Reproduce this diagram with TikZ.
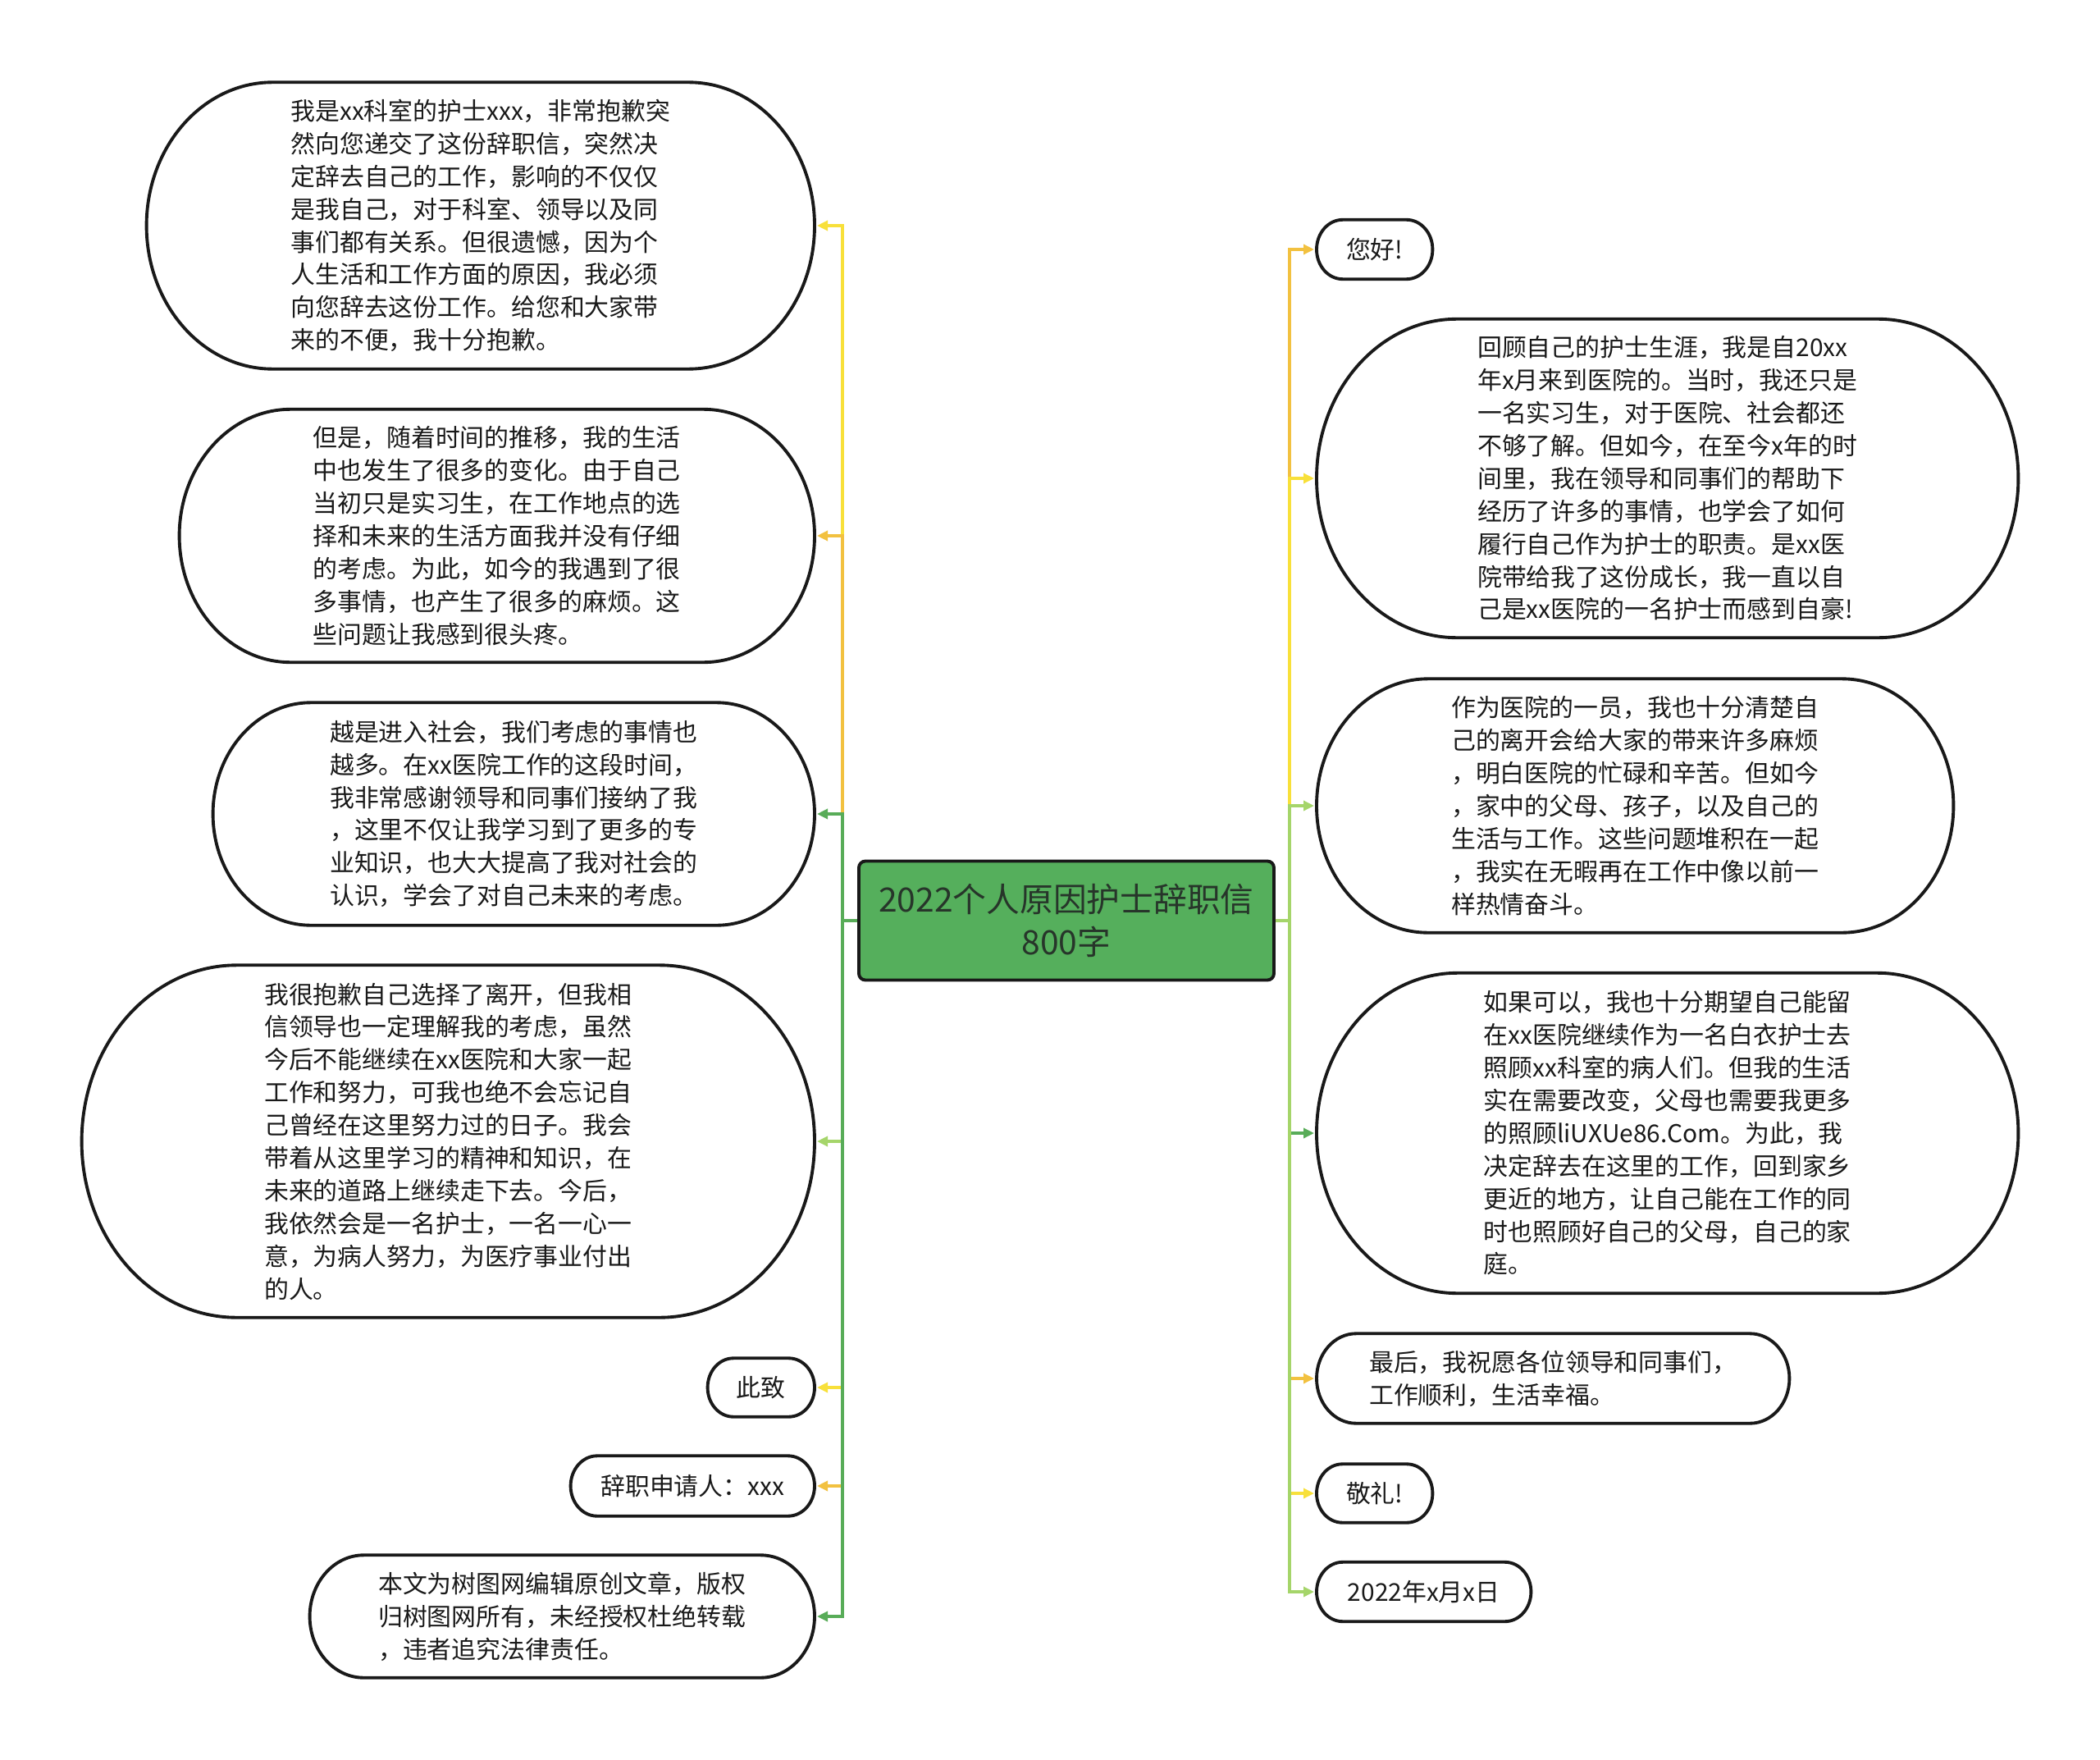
\documentclass[tikz,border=0pt]{standalone}
\usepackage{fontspec}
\setmainfont{Noto Sans CJK SC}
\usetikzlibrary{arrows.meta, calc}

\definecolor{rootgreen}{HTML}{55AF5C}
\definecolor{roottext}{HTML}{27352A}
\definecolor{linkyellow}{HTML}{F8E03A}
\definecolor{linkorange}{HTML}{F2C140}
\definecolor{linkgreen}{HTML}{58AC58}
\definecolor{linklime}{HTML}{A5D56A}

\tikzset{
  root/.style={draw=black!90, line width=1.1pt, fill=rootgreen, rounded corners=0.08cm,
    minimum width=5.06cm, minimum height=1.45cm, align=center, text=roottext,
    font=\fontsize{11.6pt}{14.8pt}\selectfont},
  leaf/.style={align=left, inner sep=0pt, text=black!90,
    font=\fontsize{8.5pt}{11.35pt}\selectfont},
  outline/.style={draw=black!90, line width=1.1pt},
  link/.style={line width=1pt, -{Triangle[length=0.13cm, width=0.12cm]}, shorten >=0.03cm},
}

\begin{document}
\begin{tikzpicture}[x=1cm, y=-1cm]
  \useasboundingbox (0,0) rectangle (25.6,21.45);

  % centre topic
  \node[root] (root) at (13.00,11.22) {2022个人原因护士辞职信\\800字};
  \coordinate (lbus) at (10.27,11.22);
  \coordinate (rbus) at (15.72,11.22);

  % left column
  \node[leaf, anchor=east, minimum width=8.13cm, minimum height=3.48cm] (l1) at (9.93,2.75)
    {我是xx科室的护士xxx，非常抱歉突\\然向您递交了这份辞职信，突然决\\定辞去自己的工作，影响的不仅仅\\是我自己，对于科室、领导以及同\\事们都有关系。但很遗憾，因为个\\人生活和工作方面的原因，我必须\\向您辞去这份工作。给您和大家带\\来的不便，我十分抱歉。};
  \node[leaf, anchor=east, minimum width=7.73cm, minimum height=3.07cm] (l2) at (9.93,6.53)
    {但是，随着时间的推移，我的生活\\中也发生了很多的变化。由于自己\\当初只是实习生，在工作地点的选\\择和未来的生活方面我并没有仔细\\的考虑。为此，如今的我遇到了很\\多事情，也产生了很多的麻烦。这\\些问题让我感到很头疼。};
  \node[leaf, anchor=east, minimum width=7.32cm, minimum height=2.70cm] (l3) at (9.93,9.92)
    {越是进入社会，我们考虑的事情也\\越多。在xx医院工作的这段时间，\\我非常感谢领导和同事们接纳了我\\，这里不仅让我学习到了更多的专\\业知识，也大大提高了我对社会的\\认识，学会了对自己未来的考虑。};
  \node[leaf, anchor=east, minimum width=8.92cm, minimum height=4.28cm] (l4) at (9.93,13.91)
    {我很抱歉自己选择了离开，但我相\\信领导也一定理解我的考虑，虽然\\今后不能继续在xx医院和大家一起\\工作和努力，可我也绝不会忘记自\\己曾经在这里努力过的日子。我会\\带着从这里学习的精神和知识，在\\未来的道路上继续走下去。今后，\\我依然会是一名护士，一名一心一\\意，为病人努力，为医疗事业付出\\的人。};
  \node[leaf, anchor=east, minimum width=1.29cm, minimum height=0.70cm] (l5) at (9.93,16.91) {此致};
  \node[leaf, anchor=east, minimum width=2.96cm, minimum height=0.72cm] (l6) at (9.93,18.11) {辞职申请人：xxx};
  \node[leaf, anchor=east, minimum width=6.14cm, minimum height=1.48cm] (l7) at (9.93,19.70)
    {本文为树图网编辑原创文章，版权\\归树图网所有，未经授权杜绝转载\\，违者追究法律责任。};

  % right column
  \node[leaf, anchor=west, minimum width=1.40cm, minimum height=0.71cm] (r1) at (16.05,3.04) {您好!};
  \node[leaf, anchor=west, minimum width=8.54cm, minimum height=3.87cm] (r2) at (16.05,5.83)
    {回顾自己的护士生涯，我是自20xx\\年x月来到医院的。当时，我还只是\\一名实习生，对于医院、社会都还\\不够了解。但如今，在至今x年的时\\间里，我在领导和同事们的帮助下\\经历了许多的事情，也学会了如何\\履行自己作为护士的职责。是xx医\\院带给我了这份成长，我一直以自\\己是xx医院的一名护士而感到自豪!};
  \node[leaf, anchor=west, minimum width=7.75cm, minimum height=3.08cm] (r3) at (16.05,9.82)
    {作为医院的一员，我也十分清楚自\\己的离开会给大家的带来许多麻烦\\，明白医院的忙碌和辛苦。但如今\\，家中的父母、孩子，以及自己的\\生活与工作。这些问题堆积在一起\\，我实在无暇再在工作中像以前一\\样热情奋斗。};
  \node[leaf, anchor=west, minimum width=8.54cm, minimum height=3.89cm] (r4) at (16.05,13.81)
    {如果可以，我也十分期望自己能留\\在xx医院继续作为一名白衣护士去\\照顾xx科室的病人们。但我的生活\\实在需要改变，父母也需要我更多\\的照顾liUXUe86.Com。为此，我\\决定辞去在这里的工作，回到家乡\\更近的地方，让自己能在工作的同\\时也照顾好自己的父母，自己的家\\庭。};
  \node[leaf, anchor=west, minimum width=5.75cm, minimum height=1.08cm] (r5) at (16.05,16.80)
    {最后，我祝愿各位领导和同事们，\\工作顺利，生活幸福。};
  \node[leaf, anchor=west, minimum width=1.40cm, minimum height=0.70cm] (r6) at (16.05,18.20) {敬礼!};
  \node[leaf, anchor=west, minimum width=2.60cm, minimum height=0.71cm] (r7) at (16.05,19.40) {2022年x月x日};

  % bubble outlines
  \foreach \b in {l1,l2,l3,l4,l5,l6,l7,r1,r2,r3,r4,r5,r6,r7}
    \draw[outline] let \p1=($(\b.north)-(\b.south)$), \n1={0.5*\y1}, \n2={0.88*0.5*\y1} in
      ($(\b.north west)+(\n2,0)$) -- ($(\b.north east)-(\n2,0)$)
      arc[start angle=90, end angle=-90, x radius=\n2, y radius=\n1]
      -- ($(\b.south west)+(\n2,0)$)
      arc[start angle=270, end angle=90, x radius=\n2, y radius=\n1] -- cycle;

  % connectors
  \foreach \b/\c in {l1/linkyellow, l2/linkorange, l3/linkgreen, l4/linklime,
                     l5/linkyellow, l6/linkorange, l7/linkgreen}
    \draw[link, \c] (root.west) -- (root.west -| lbus) |- (\b.east);
  \foreach \b/\c in {r1/linkorange, r2/linkyellow, r3/linklime, r4/linkgreen,
                     r5/linkorange, r6/linkyellow, r7/linklime}
    \draw[link, \c] (root.east) -- (root.east -| rbus) |- (\b.west);
\end{tikzpicture}
\end{document}
